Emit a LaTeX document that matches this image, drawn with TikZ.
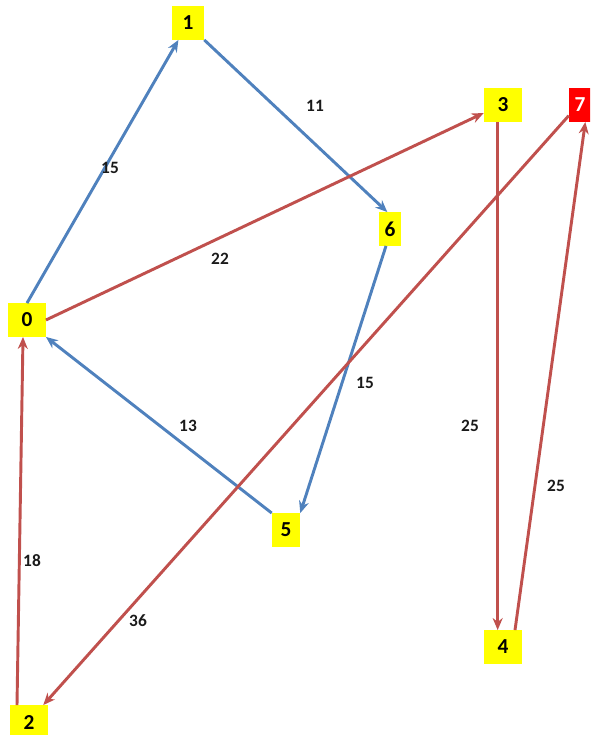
\documentclass[tikz,border=0pt]{standalone}
\usepackage{fontspec}
\setmainfont{Carlito}
\usetikzlibrary{arrows.meta}
\definecolor{edgeblue}{HTML}{4F81BD}
\definecolor{edgered}{HTML}{C0504D}
\definecolor{boxyellow}{HTML}{FFFF00}
\definecolor{boxred}{HTML}{FF0000}
\definecolor{labelgray}{HTML}{1A1A1A}

\tikzset{
    vertex/.style={fill=boxyellow, inner sep=0, minimum height=25pt, text=black, font=\fontsize{16}{16}\selectfont\bfseries},
    weight/.style={inner sep=1pt, text=labelgray, font=\fontsize{13}{13}\selectfont\bfseries},
    bluearc/.style={draw=edgeblue, line width=2.2pt, -{Stealth[length=9pt,width=7.5pt]}},
    redarc/.style={draw=edgered, line width=2.2pt, -{Stealth[length=9pt,width=7.5pt]}}
}

\begin{document}
\begin{tikzpicture}[x=0.75pt, y=-0.75pt]
    \useasboundingbox (0,0) rectangle (590,735);
    \clip (0,0) rectangle (590,735);

    % vertices
    \node[vertex, minimum width=24pt] (n1) at (188,23) {1};
    \node[vertex, minimum width=28.5pt] (n3) at (503,105) {3};
    \node[vertex, minimum width=16.5pt, fill=boxred, text=white] (n7) at (580,105) {7};
    \node[vertex, minimum width=17pt] (n6) at (390,229) {6};
    \node[vertex, minimum width=28pt] (n0) at (27,320) {0};
    \node[vertex, minimum width=21pt] (n5) at (286,530) {5};
    \node[vertex, minimum width=28.5pt] (n4) at (503,647) {4};
    \node[vertex, minimum width=29pt] (n2) at (29,722) {2};

    % blue arcs
    \draw[bluearc] (n0.north) -- ([xshift=5pt]n1.south west);
    \draw[bluearc] (n1.south east) -- ([xshift=-2pt]n6.north);
    \draw[bluearc] ([xshift=-3pt]n6.south) -- (n5.north east);
    \draw[bluearc] (n5.north west) -- (n0.south east);

    % red arcs
    \draw[redarc] (n0.east) -- ([yshift=-6pt]n3.west);
    \draw[redarc] ([xshift=-4pt]n3.south) -- ([xshift=-4pt]n4.north);
    \draw[redarc] ([xshift=9pt]n4.north) -- ([xshift=4pt]n7.south);
    \draw[redarc] ([yshift=-8pt]n7.west) -- ([xshift=-4pt]n2.north east);
    \draw[redarc] ([xshift=-9pt]n2.north) -- ([xshift=-3pt]n0.south);

    % weights
    \node[weight] (w01) at (110,168) {15};
    \node[weight] (w16) at (315,106) {11};
    \node[weight] (w03) at (220,259) {22};
    \node[weight] (w65) at (365,383) {15};
    \node[weight] (w50) at (188,426) {13};
    \node[weight] (w20) at (32,561) {18};
    \node[weight] (w72) at (138,621) {36};
    \node[weight] (w34) at (470,426) {25};
    \node[weight] (w47) at (556,486) {25};
\end{tikzpicture}
\end{document}
